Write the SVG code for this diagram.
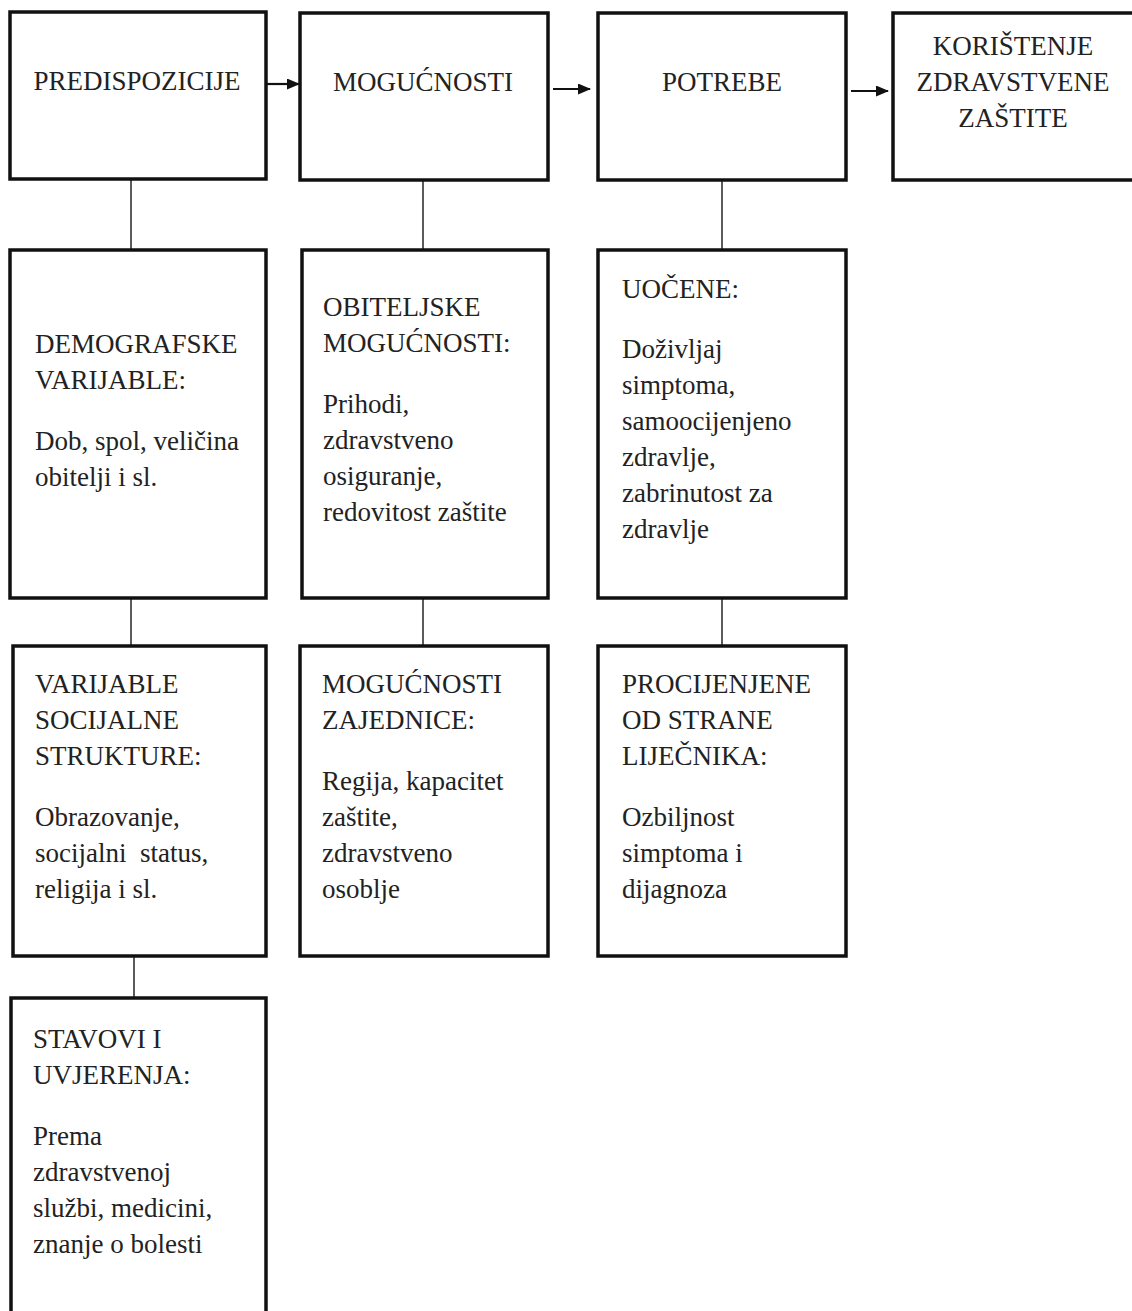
<svg xmlns="http://www.w3.org/2000/svg" width="1132" height="1311" viewBox="0 0 1132 1311">
<defs>
<marker id="ah" markerWidth="13" markerHeight="11" refX="12" refY="5.5" orient="auto" markerUnits="userSpaceOnUse">
<path d="M0,0 L13,5.5 L0,11 Z" fill="#111"/>
</marker>
<style>
.box{fill:#fff;stroke:#111;stroke-width:3.5}
.ln{stroke:#333;stroke-width:1.6;fill:none}
.ar{stroke:#111;stroke-width:2.2;fill:none;marker-end:url(#ah)}
text{font-family:"Liberation Serif","Times New Roman",serif;font-size:27px;fill:#222}
.c{text-anchor:middle}
</style>
</defs>
<rect width="1132" height="1311" fill="#fff"/>
<g id="connectors">
<line class="ln" x1="131" y1="179" x2="131" y2="249"/>
<line class="ln" x1="423" y1="180" x2="423" y2="249"/>
<line class="ln" x1="722" y1="180" x2="722" y2="249"/>
<line class="ln" x1="131" y1="598" x2="131" y2="645"/>
<line class="ln" x1="423" y1="598" x2="423" y2="645"/>
<line class="ln" x1="722" y1="598" x2="722" y2="645"/>
<line class="ln" x1="134" y1="956" x2="134" y2="997"/>
<line class="ar" x1="267" y1="84" x2="299" y2="84"/>
<line class="ar" x1="553" y1="89" x2="590" y2="89"/>
<line class="ar" x1="851" y1="91" x2="888" y2="91"/>
</g>
<g id="predispozicije">
<rect class="box" x="10" y="12" width="256" height="167"/>
<text class="c" x="137" y="90">PREDISPOZICIJE</text>
</g>
<g id="mogucnosti">
<rect class="box" x="300" y="13" width="248" height="167"/>
<text class="c" x="423" y="91">MOGUĆNOSTI</text>
</g>
<g id="potrebe">
<rect class="box" x="598" y="13" width="248" height="167"/>
<text class="c" x="722" y="91">POTREBE</text>
</g>
<g id="koristenje">
<rect class="box" x="893" y="13" width="245" height="167"/>
<text class="c" x="1013" y="55">KORIŠTENJE</text>
<text class="c" x="1013" y="91">ZDRAVSTVENE</text>
<text class="c" x="1013" y="127">ZAŠTITE</text>
</g>
<g id="demografske">
<rect class="box" x="10" y="250" width="256" height="348"/>
<text x="35" y="353">DEMOGRAFSKE</text>
<text x="35" y="389">VARIJABLE:</text>
<text x="35" y="450">Dob, spol, veličina</text>
<text x="35" y="486">obitelji i sl.</text>
</g>
<g id="obiteljske">
<rect class="box" x="302" y="250" width="246" height="348"/>
<text x="323" y="316">OBITELJSKE</text>
<text x="323" y="352">MOGUĆNOSTI:</text>
<text x="323" y="413">Prihodi,</text>
<text x="323" y="449">zdravstveno</text>
<text x="323" y="485">osiguranje,</text>
<text x="323" y="521">redovitost zaštite</text>
</g>
<g id="uocene">
<rect class="box" x="598" y="250" width="248" height="348"/>
<text x="622" y="298">UOČENE:</text>
<text x="622" y="358">Doživljaj</text>
<text x="622" y="394">simptoma,</text>
<text x="622" y="430">samoocijenjeno</text>
<text x="622" y="466">zdravlje,</text>
<text x="622" y="502">zabrinutost za</text>
<text x="622" y="538">zdravlje</text>
</g>
<g id="socijalne">
<rect class="box" x="13" y="646" width="253" height="310"/>
<text x="35" y="693">VARIJABLE</text>
<text x="35" y="729">SOCIJALNE</text>
<text x="35" y="765">STRUKTURE:</text>
<text x="35" y="826">Obrazovanje,</text>
<text x="35" y="862" xml:space="preserve">socijalni  status,</text>
<text x="35" y="898">religija i sl.</text>
</g>
<g id="zajednice">
<rect class="box" x="300" y="646" width="248" height="310"/>
<text x="322" y="693">MOGUĆNOSTI</text>
<text x="322" y="729">ZAJEDNICE:</text>
<text x="322" y="790">Regija, kapacitet</text>
<text x="322" y="826">zaštite,</text>
<text x="322" y="862">zdravstveno</text>
<text x="322" y="898">osoblje</text>
</g>
<g id="procijenjene">
<rect class="box" x="598" y="646" width="248" height="310"/>
<text x="622" y="693">PROCIJENJENE</text>
<text x="622" y="729">OD STRANE</text>
<text x="622" y="765">LIJEČNIKA:</text>
<text x="622" y="826">Ozbiljnost</text>
<text x="622" y="862">simptoma i</text>
<text x="622" y="898">dijagnoza</text>
</g>
<g id="stavovi">
<rect class="box" x="11" y="998" width="255" height="330"/>
<text x="33" y="1048">STAVOVI I</text>
<text x="33" y="1084">UVJERENJA:</text>
<text x="33" y="1145">Prema</text>
<text x="33" y="1181">zdravstvenoj</text>
<text x="33" y="1217">službi, medicini,</text>
<text x="33" y="1253">znanje o bolesti</text>
</g>
</svg>
